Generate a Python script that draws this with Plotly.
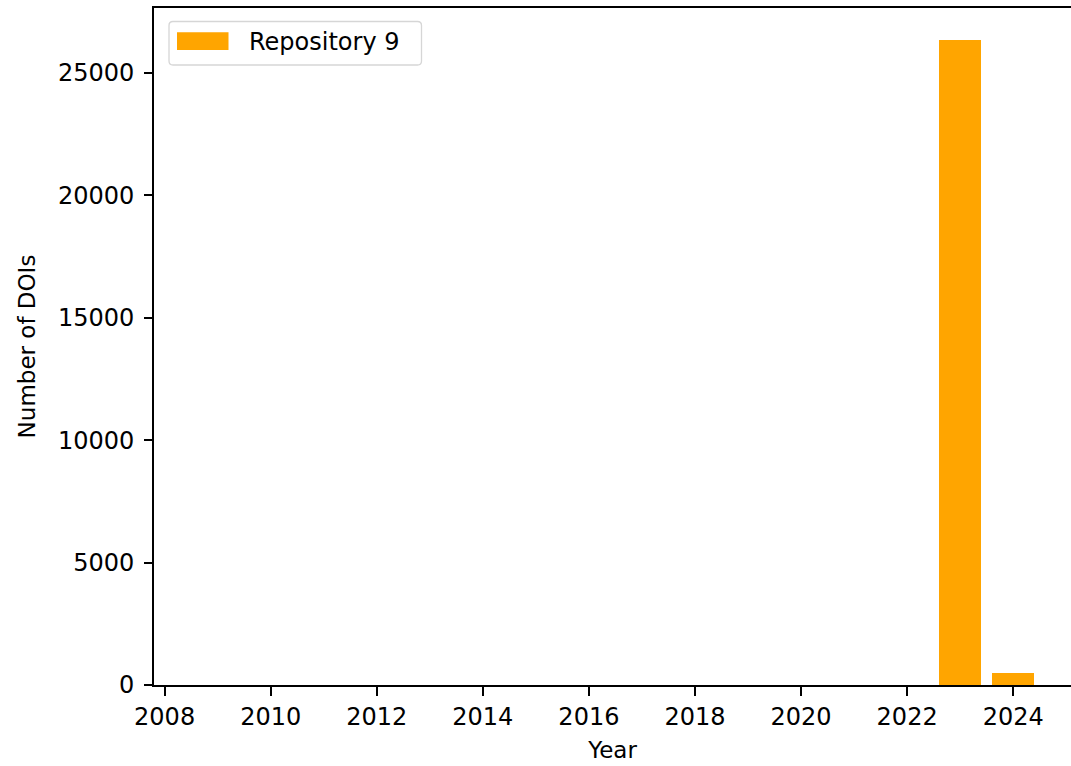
import plotly.graph_objects as go

# ---- data ----
years = [2009, 2010, 2011, 2012, 2013, 2014, 2015, 2016,
         2017, 2018, 2019, 2020, 2021, 2022, 2023, 2024]
dois = [0, 0, 0, 0, 0, 0, 0, 0,
        0, 0, 0, 0, 0, 0, 26330, 475]
series_name = "Repository 9"
x_label = "Year"
y_label = "Number of DOIs"
bar_color = "#FFA500"

# ---- layout geometry (pixels) ----
W, H = 1071, 766
ML, MR, MT, MB = 154, 0, 8, 81
PW, PH = W - ML - MR, H - MT - MB
FONT = "DejaVu Sans"


def px_x(p):
    return (p - ML) / PW


def px_y(p):
    return 1 - (p - MT) / PH


fig = go.Figure()
fig.add_trace(go.Bar(
    x=years, y=dois, name=series_name, width=0.8,
    marker=dict(color=bar_color, line=dict(width=0)),
    showlegend=False,
))

# custom matplotlib-like legend
lx0, lx1, ly0, ly1 = 169, 421.5, 21.5, 65
r = 4
X0, X1 = px_x(lx0), px_x(lx1)
Y0, Y1 = px_y(ly0), px_y(ly1)
rx, ry = r / PW, r / PH
path = (f"M {X0+rx},{Y0} L {X1-rx},{Y0} Q {X1},{Y0} {X1},{Y0-ry} "
        f"L {X1},{Y1+ry} Q {X1},{Y1} {X1-rx},{Y1} L {X0+rx},{Y1} "
        f"Q {X0},{Y1} {X0},{Y1+ry} L {X0},{Y0-ry} Q {X0},{Y0} {X0+rx},{Y0} Z")
fig.add_shape(type="path", path=path, xref="paper", yref="paper",
              line=dict(color="#d6d6d6", width=1.3), fillcolor="rgba(255,255,255,0.8)")
fig.add_shape(type="rect", xref="paper", yref="paper",
              x0=px_x(177), x1=px_x(228.5), y0=px_y(32.3), y1=px_y(50),
              line=dict(width=0), fillcolor=bar_color)
fig.add_annotation(text=series_name, xref="paper", yref="paper",
                   x=px_x(247), y=px_y(42), xanchor="left", yanchor="middle",
                   showarrow=False, font=dict(family=FONT, size=24, color="#000000"))

fig.update_layout(
    width=W, height=H,
    margin=dict(l=ML, r=MR, t=MT, b=MB, pad=0),
    paper_bgcolor="white", plot_bgcolor="white",
    font=dict(family=FONT, size=24, color="#000000"),
    bargap=0,
)
fig.update_xaxes(
    range=[2007.80, 2025.09], tick0=2008, dtick=2,
    showgrid=False, zeroline=False,
    showline=True, linecolor="black", linewidth=1.6, mirror=True,
    ticks="outside", ticklen=9, tickwidth=1.6, tickcolor="black",
    tickfont=dict(family=FONT, size=24, color="#000000"),
    title=dict(text=x_label, font=dict(family=FONT, size=23, color="#000000"), standoff=12),
    automargin=False,
)
fig.update_yaxes(
    range=[0, 27646], tick0=0, dtick=5000, tickformat="d",
    showgrid=False, zeroline=False,
    showline=True, linecolor="black", linewidth=1.6, mirror=False,
    ticks="outside", ticklen=8, tickwidth=1.6, tickcolor="black",
    ticklabelstandoff=5,
    tickfont=dict(family=FONT, size=24, color="#000000"),
    title=dict(text=y_label, font=dict(family=FONT, size=23, color="#000000"), standoff=16),
    automargin=False,
)

fig.write_html(
    "out.html",
    config={"displayModeBar": False},
    post_script="document.body.style.margin='0';document.body.style.overflow='hidden';",
)
